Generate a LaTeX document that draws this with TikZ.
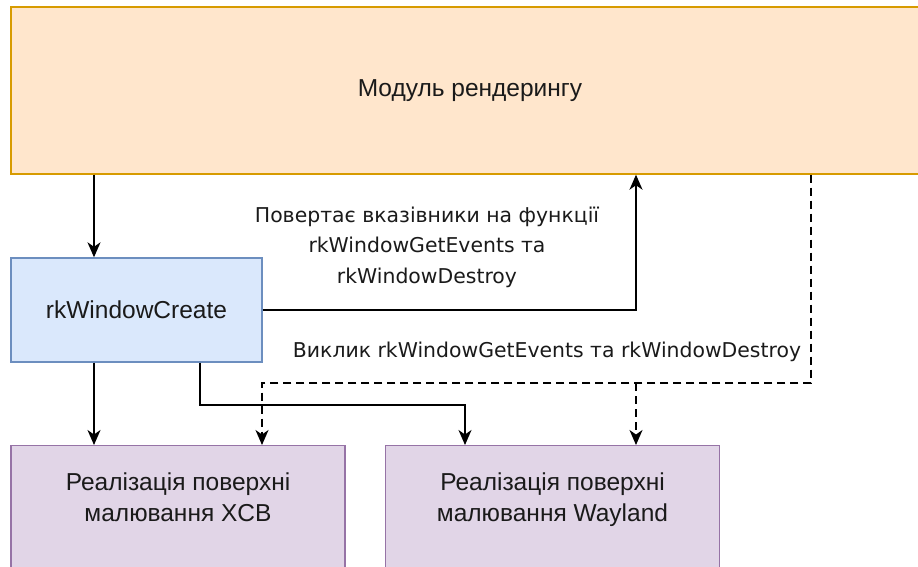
\documentclass[tikz,border=0pt]{standalone}
\usepackage{fontspec}
\setmainfont{Liberation Sans}
\newfontfamily\labelfont{DejaVu Sans}
\usetikzlibrary{positioning,arrows.meta}

\definecolor{rendfill}{HTML}{FFE6CC}
\definecolor{renddraw}{HTML}{D79B00}
\definecolor{callfill}{HTML}{DAE8FC}
\definecolor{calldraw}{HTML}{6C8EBF}
\definecolor{implfill}{HTML}{E1D5E7}
\definecolor{impldraw}{HTML}{9673A6}
\definecolor{ink}{HTML}{1A1A1A}

\begin{document}
\begin{tikzpicture}[x=1pt,y=-1pt]
	\tikzset{
		box/.style={rectangle,line width=1.4pt,inner sep=0pt,align=center,text=ink,
			font=\fontsize{24.5}{30.6}\selectfont},
		rendbox/.style={box,fill=rendfill,draw=renddraw,minimum width=918,minimum height=167},
		callbox/.style={box,fill=callfill,draw=calldraw,minimum width=251,minimum height=104},
		implbox/.style={box,fill=implfill,draw=impldraw,minimum width=334,minimum height=175,anchor=north},
		boxtext/.style={align=center,inner sep=0pt,text=ink,text depth=0pt,font=\fontsize{24.5}{30.6}\selectfont},
		edgetext/.style={align=center,inner sep=0pt,text=ink,font=\labelfont\fontsize{20.4}{30.5}\selectfont},
		>={Stealth[length=15pt,width=13pt,inset=4.5pt]},
		link/.style={->,line width=1.6pt},
		call/.style={link,dash pattern=on 8pt off 5pt}
	}
	\useasboundingbox (0,0) rectangle (918,566);
	% boxes
	\node[rendbox] (render) at (470,90.5) {Модуль рендерингу};
	\node[callbox] (create) at (136.5,310) {rkWindowCreate};
	\node[implbox] (xcb) at (178,445) {};
	\node[implbox] (wayland) at (552.5,445) {};
	\node[boxtext] (xcbtext) at ([yshift=-52]xcb.north) {Реалізація поверхні\\малювання XCB};
	\node[boxtext] (waytext) at ([yshift=-52]wayland.north) {Реалізація поверхні\\малювання Wayland};
	% labels
	\node[edgetext] (ret) at (427,247) {Повертає вказівники на функції\\rkWindowGetEvents та\\rkWindowDestroy};
	\node[edgetext] (calls) at (547,352) {Виклик rkWindowGetEvents та rkWindowDestroy};
	% connectors
	\draw[link] ([xshift=-42.5]create.north |- render.south) -- ([xshift=-42.5]create.north);
	\draw[link] (create.east) -| ([xshift=166]render.south);
	\draw[link] ([xshift=-42.5]create.south) -- ([xshift=-42.5]create.south |- xcb.north);
	\draw[link] ([xshift=63.5]create.south) -- ++(0,42) -| ([xshift=-87.5]wayland.north);
	\draw[call] ([xshift=341]render.south) |- ([xshift=84,yshift=62]xcb.north) -- ([xshift=84]xcb.north);
	\draw[call] ([xshift=83.5,yshift=62]wayland.north) -- ([xshift=83.5]wayland.north);
\end{tikzpicture}
\end{document}
